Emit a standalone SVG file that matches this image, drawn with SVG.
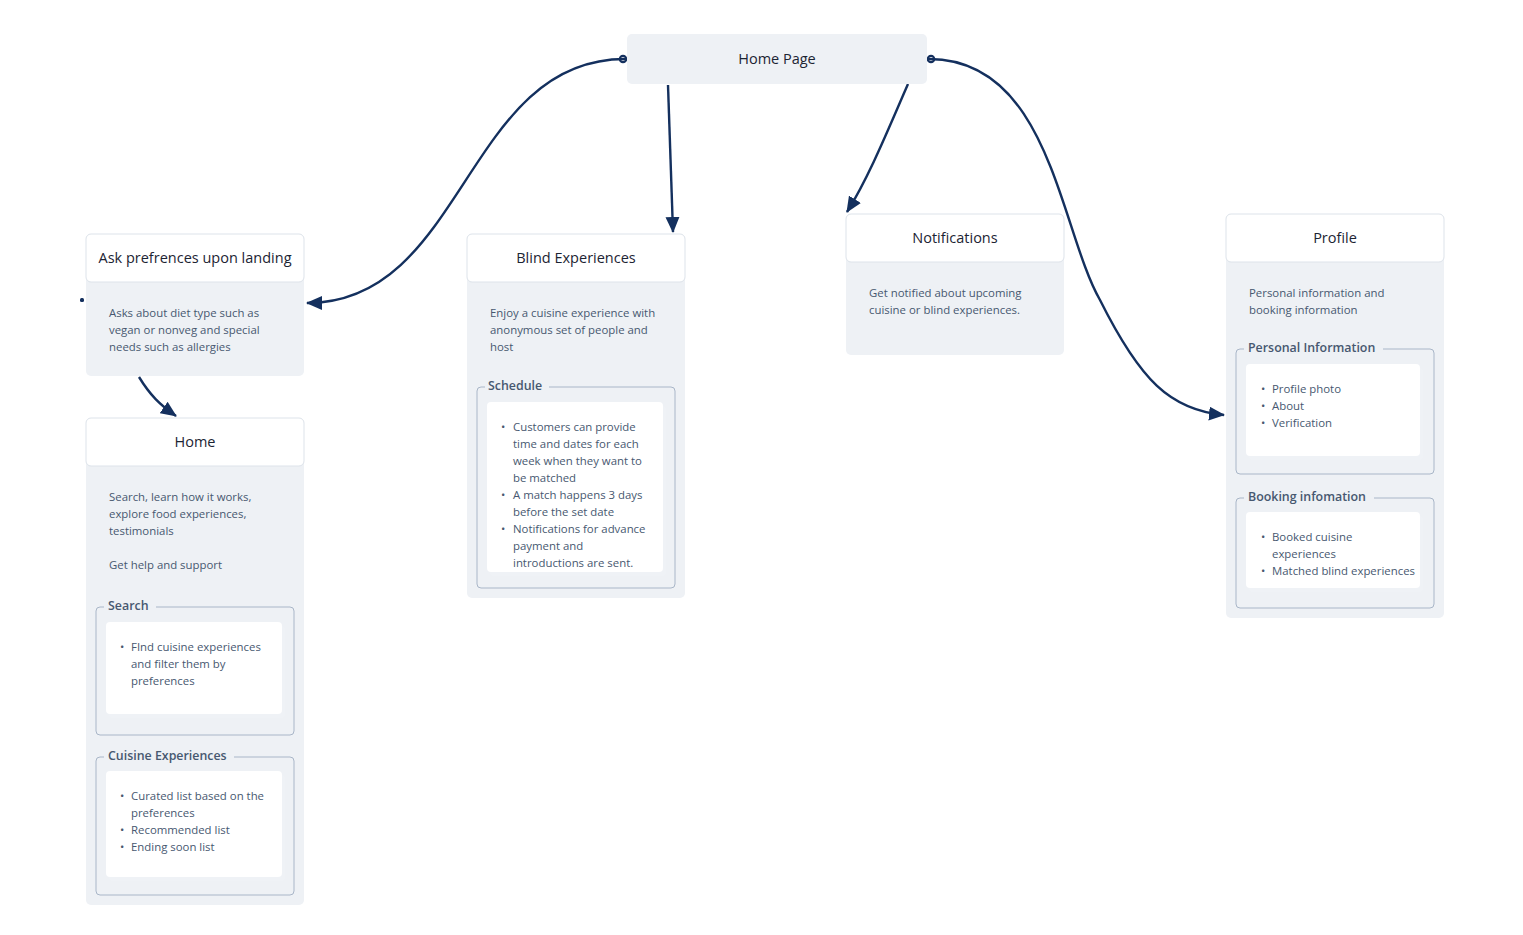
<svg xmlns="http://www.w3.org/2000/svg" width="1523" height="935" viewBox="0 0 1523 935">
  <defs>
    <marker id="ah" viewBox="0 0 16 14" refX="15" refY="7" markerWidth="16" markerHeight="14" markerUnits="userSpaceOnUse" orient="auto">
      <path d="M0,0 L16,7 L0,14 z" fill="#14305e"/>
    </marker>
    <marker id="tail" viewBox="0 0 10 10" refX="3" refY="5" markerWidth="10" markerHeight="10" markerUnits="userSpaceOnUse" orient="auto">
      <circle cx="5" cy="5" r="3.2" fill="none" stroke="#14305e" stroke-width="2.2"/>
    </marker>
    <filter id="sh" x="-10%" y="-10%" width="130%" height="130%">
      <feOffset dx="3" dy="4"/>
      <feGaussianBlur stdDeviation="0.5"/>
      <feComponentTransfer><feFuncA type="linear" slope="0.09"/></feComponentTransfer>
      <feMerge><feMergeNode/><feMergeNode in="SourceGraphic"/></feMerge>
    </filter>
  </defs>
  <style>
    .body { fill: #eef1f5; }
    .head { fill: #ffffff; stroke: #dde3ea; stroke-width: 1; }
    .title { font-family: "Open Sans", "Noto Sans", sans-serif; font-size: 14.5px; fill: #1c2433; text-anchor: middle; }
    .txt { font-family: "Open Sans", "Noto Sans", sans-serif; font-size: 11.4px; fill: #475870; }
    .leg { font-family: "Open Sans", "Noto Sans", sans-serif; font-size: 12.4px; font-weight: 600; fill: #475870; }
    .frame { fill: none; stroke: #a9b6c8; stroke-width: 1; }
    .card { fill: #ffffff; filter: url(#sh); }
    .conn { fill: none; stroke: #14305e; stroke-width: 2.4; }
  </style>

  <!-- connectors -->
  <g id="connectors">
    <path class="conn" d="M625,59 C465,59 465,303 307,303" marker-start="url(#tail)" marker-end="url(#ah)"/>
    <path class="conn" d="M668,85 L673,232" marker-end="url(#ah)"/>
    <path class="conn" d="M908,84 C890,125 870,175 847,212" marker-end="url(#ah)"/>
    <path class="conn" d="M929,59 C1050,59 1060,230 1100,300 C1140,380 1170,410 1224,415" marker-start="url(#tail)" marker-end="url(#ah)"/>
    <path class="conn" d="M139,377 C150,395 160,405 176,416" marker-end="url(#ah)"/>
    <rect x="80" y="298" width="4" height="4" rx="1.5" fill="#14305e"/>
  </g>

  <!-- Home Page -->
  <g id="home-page">
    <rect x="627" y="34" width="300" height="50" rx="5" class="body"/>
    <text x="777" y="64" class="title">Home Page</text>
  </g>

  <!-- Ask preferences -->
  <g id="ask-preferences">
    <rect x="86" y="234" width="218" height="142" rx="5" class="body"/>
    <rect x="86" y="234" width="218" height="48" rx="5" class="head"/>
    <text x="195" y="263" class="title">Ask prefrences upon landing</text>
    <text class="txt">
      <tspan x="109" y="317">Asks about diet type such as</tspan>
      <tspan x="109" y="334">vegan or nonveg and special</tspan>
      <tspan x="109" y="351">needs such as allergies</tspan>
    </text>
  </g>

  <!-- Home -->
  <g id="home">
    <rect x="86" y="418" width="218" height="487" rx="5" class="body"/>
    <rect x="86" y="418" width="218" height="48" rx="5" class="head"/>
    <text x="195" y="447" class="title">Home</text>
    <text class="txt">
      <tspan x="109" y="501">Search, learn how it works,</tspan>
      <tspan x="109" y="518">explore food experiences,</tspan>
      <tspan x="109" y="535">testimonials</tspan>
      <tspan x="109" y="569">Get help and support</tspan>
    </text>
    <path class="frame" d="M104,607 L100,607 Q96,607 96,611 L96,731 Q96,735 100,735 L290,735 Q294,735 294,731 L294,611 Q294,607 290,607 L156,607"/>
    <text x="108" y="610" class="leg">Search</text>
    <rect x="106" y="622" width="176" height="92" rx="4" class="card"/>
    <text class="txt">
      <tspan x="120" y="651">•</tspan><tspan x="131" y="651">FInd cuisine experiences</tspan>
      <tspan x="131" y="668">and filter them by</tspan>
      <tspan x="131" y="685">preferences</tspan>
    </text>
    <path class="frame" d="M104,757 L100,757 Q96,757 96,761 L96,891 Q96,895 100,895 L290,895 Q294,895 294,891 L294,761 Q294,757 290,757 L234,757"/>
    <text x="108" y="760" class="leg">Cuisine Experiences</text>
    <rect x="106" y="771" width="176" height="106" rx="4" class="card"/>
    <text class="txt">
      <tspan x="120" y="800">•</tspan><tspan x="131" y="800">Curated list based on the</tspan>
      <tspan x="131" y="817">preferences</tspan>
      <tspan x="120" y="834">•</tspan><tspan x="131" y="834">Recommended list</tspan>
      <tspan x="120" y="851">•</tspan><tspan x="131" y="851">Ending soon list</tspan>
    </text>
  </g>

  <!-- Blind Experiences -->
  <g id="blind-experiences">
    <rect x="467" y="234" width="218" height="364" rx="5" class="body"/>
    <rect x="467" y="234" width="218" height="48" rx="5" class="head"/>
    <text x="576" y="263" class="title">Blind Experiences</text>
    <text class="txt">
      <tspan x="490" y="317">Enjoy a cuisine experience with</tspan>
      <tspan x="490" y="334">anonymous set of people and</tspan>
      <tspan x="490" y="351">host</tspan>
    </text>
    <path class="frame" d="M485,387 L481,387 Q477,387 477,391 L477,584 Q477,588 481,588 L671,588 Q675,588 675,584 L675,391 Q675,387 671,387 L549,387"/>
    <text x="488" y="390" class="leg">Schedule</text>
    <rect x="487" y="402" width="176" height="170" rx="4" class="card"/>
    <text class="txt">
      <tspan x="501" y="431">•</tspan><tspan x="513" y="431">Customers can provide</tspan>
      <tspan x="513" y="448">time and dates for each</tspan>
      <tspan x="513" y="465">week when they want to</tspan>
      <tspan x="513" y="482">be matched</tspan>
      <tspan x="501" y="499">•</tspan><tspan x="513" y="499">A match happens 3 days</tspan>
      <tspan x="513" y="516">before the set date</tspan>
      <tspan x="501" y="533">•</tspan><tspan x="513" y="533">Notifications for advance</tspan>
      <tspan x="513" y="550">payment  and</tspan>
      <tspan x="513" y="567">introductions are sent.</tspan>
    </text>
  </g>

  <!-- Notifications -->
  <g id="notifications">
    <rect x="846" y="214" width="218" height="141" rx="5" class="body"/>
    <rect x="846" y="214" width="218" height="48" rx="5" class="head"/>
    <text x="955" y="243" class="title">Notifications</text>
    <text class="txt">
      <tspan x="869" y="297">Get notified about upcoming</tspan>
      <tspan x="869" y="314">cuisine or blind experiences.</tspan>
    </text>
  </g>

  <!-- Profile -->
  <g id="profile">
    <rect x="1226" y="214" width="218" height="404" rx="5" class="body"/>
    <rect x="1226" y="214" width="218" height="48" rx="5" class="head"/>
    <text x="1335" y="243" class="title">Profile</text>
    <text class="txt">
      <tspan x="1249" y="297">Personal information and</tspan>
      <tspan x="1249" y="314">booking information</tspan>
    </text>
    <path class="frame" d="M1244,349 L1240,349 Q1236,349 1236,353 L1236,470 Q1236,474 1240,474 L1430,474 Q1434,474 1434,470 L1434,353 Q1434,349 1430,349 L1383,349"/>
    <text x="1248" y="352" class="leg">Personal Information</text>
    <rect x="1246" y="364" width="174" height="92" rx="4" class="card"/>
    <text class="txt">
      <tspan x="1261" y="393">•</tspan><tspan x="1272" y="393">Profile photo</tspan>
      <tspan x="1261" y="410">•</tspan><tspan x="1272" y="410">About</tspan>
      <tspan x="1261" y="427">•</tspan><tspan x="1272" y="427">Verification</tspan>
    </text>
    <path class="frame" d="M1244,498 L1240,498 Q1236,498 1236,502 L1236,604 Q1236,608 1240,608 L1430,608 Q1434,608 1434,604 L1434,502 Q1434,498 1430,498 L1374,498"/>
    <text x="1248" y="501" class="leg">Booking infomation</text>
    <rect x="1246" y="512" width="174" height="76" rx="4" class="card"/>
    <text class="txt">
      <tspan x="1261" y="541">•</tspan><tspan x="1272" y="541">Booked cuisine</tspan>
      <tspan x="1272" y="558">experiences</tspan>
      <tspan x="1261" y="575">•</tspan><tspan x="1272" y="575">Matched blind experiences</tspan>
    </text>
  </g>
</svg>
